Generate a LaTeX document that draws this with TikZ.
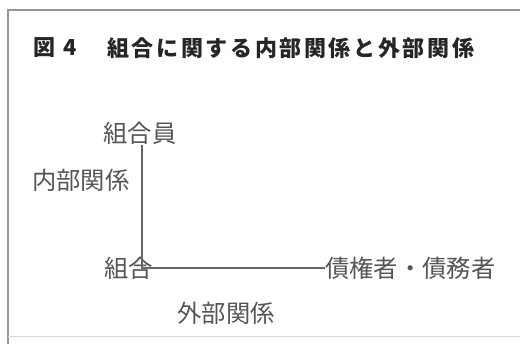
\documentclass[tikz,border=0pt]{standalone}
\usepackage{fontspec}
\newfontfamily\cjk{Noto Sans CJK JP}
\definecolor{txt}{RGB}{85,85,85}
\definecolor{frame}{RGB}{150,150,150}
\begin{document}
\begin{tikzpicture}[x=1pt,y=-1pt,
  lbl/.style={font=\cjk\fontsize{24.3}{24}\selectfont, text=txt, inner sep=0pt},
  ttl/.style={font=\cjk\bfseries\fontsize{22}{22}\selectfont, text=black!85, inner sep=0pt, anchor=west},
  conn/.style={draw=black!60, line width=1.2pt}]
\useasboundingbox (0,0) rectangle (520,344);
\fill[white] (0,0) rectangle (520,344);
\draw[frame, line width=1.5pt] (8,344) -- (8,10) -- (520,10);
\draw[black!15, line width=1pt] (8,337) -- (520,337);
\node[ttl] (fig) at (33,48) {図};
\node[ttl] (num) at (63,48) {4};
\node[ttl] (title) at (107,48) {\addfontfeatures{LetterSpace=12}組合に関する内部関係と外部関係};
\node[lbl] (member) at (140,133) {組合員};
\node[lbl] (internal) at (81,180) {内部関係};
\node[lbl, anchor=east] (union) at (153,268) {組合};
\node[lbl, anchor=west] (creditor) at (325,268) {債権者・債務者};
\node[lbl] (external) at (226,313) {外部関係};
\coordinate (corner) at (142,268);
\draw[conn] (142,145) -- (corner) -- (creditor.west);
\end{tikzpicture}
\end{document}
